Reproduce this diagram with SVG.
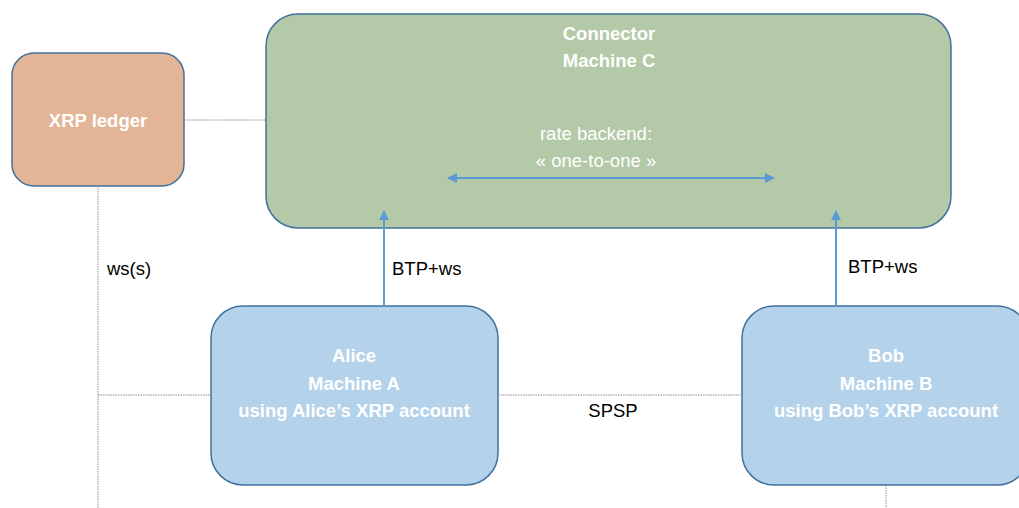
<svg xmlns="http://www.w3.org/2000/svg" width="1019" height="508" viewBox="0 0 1019 508">
<style>
.box{stroke:#41719C;stroke-width:1.5}
.wt{font-family:"Liberation Sans",Arial,sans-serif;font-size:18.5px;fill:#FFFFFF;text-anchor:middle}
.b{font-weight:bold}
.lbl{font-family:"Liberation Sans",Arial,sans-serif;font-size:18.5px;fill:#000000}
.dot{stroke:#8C8C8C;stroke-width:1;stroke-dasharray:1.5 1;fill:none}
.arr{stroke:#5B9BD5;stroke-width:2;fill:none}
</style>
<defs>
<marker id="ah" viewBox="0 0 10 10" refX="9" refY="5" markerWidth="5" markerHeight="5" orient="auto-start-reverse">
<path d="M0,0 L10,5 L0,10 z" fill="#5B9BD5"/>
</marker>
</defs>
<rect width="1019" height="508" fill="#FFFFFF"/>
<g id="xrp-ledger">
<rect class="box" x="12" y="53" width="172" height="133" rx="22" fill="#E3B596"/>
<text class="wt b" x="98" y="127">XRP ledger</text>
</g>
<g id="connector-c">
<rect class="box" x="266" y="14" width="685" height="214" rx="32" fill="#B3C9A7"/>
<text class="wt b" x="609" y="40">Connector</text>
<text class="wt b" x="609" y="67">Machine C</text>
<text class="wt" x="596" y="140">rate backend:</text>
<text class="wt" x="596" y="167">« one-to-one »</text>
</g>
<g id="alice">
<rect class="box" x="211" y="306" width="287" height="179" rx="32" fill="#B4D2EA"/>
<text class="wt b" x="354" y="362">Alice</text>
<text class="wt b" x="354" y="390">Machine A</text>
<text class="wt b" x="354" y="417">using Alice’s XRP account</text>
</g>
<g id="bob">
<rect class="box" x="742" y="306" width="287" height="179" rx="32" fill="#B4D2EA"/>
<text class="wt b" x="886" y="362">Bob</text>
<text class="wt b" x="886" y="390">Machine B</text>
<text class="wt b" x="886" y="417">using Bob’s XRP account</text>
</g>
<g id="connectors">
<line class="dot" x1="184" y1="120" x2="266" y2="120"/>
<line class="dot" x1="98" y1="186" x2="98" y2="508"/>
<line class="dot" x1="98" y1="395" x2="211" y2="395"/>
<line class="dot" x1="498" y1="395" x2="742" y2="395"/>
<line class="dot" x1="886" y1="485" x2="886" y2="508"/>
<line class="arr" x1="384" y1="306" x2="384" y2="211" marker-end="url(#ah)"/>
<line class="arr" x1="836" y1="306" x2="836" y2="211" marker-end="url(#ah)"/>
<line class="arr" x1="448" y1="178" x2="774" y2="178" marker-start="url(#ah)" marker-end="url(#ah)"/>
<text class="lbl" x="392" y="275">BTP+ws</text>
<text class="lbl" x="848" y="273">BTP+ws</text>
<text class="lbl" x="107" y="275">ws(s)</text>
<text class="lbl" x="613" y="417" text-anchor="middle">SPSP</text>
</g>
</svg>
